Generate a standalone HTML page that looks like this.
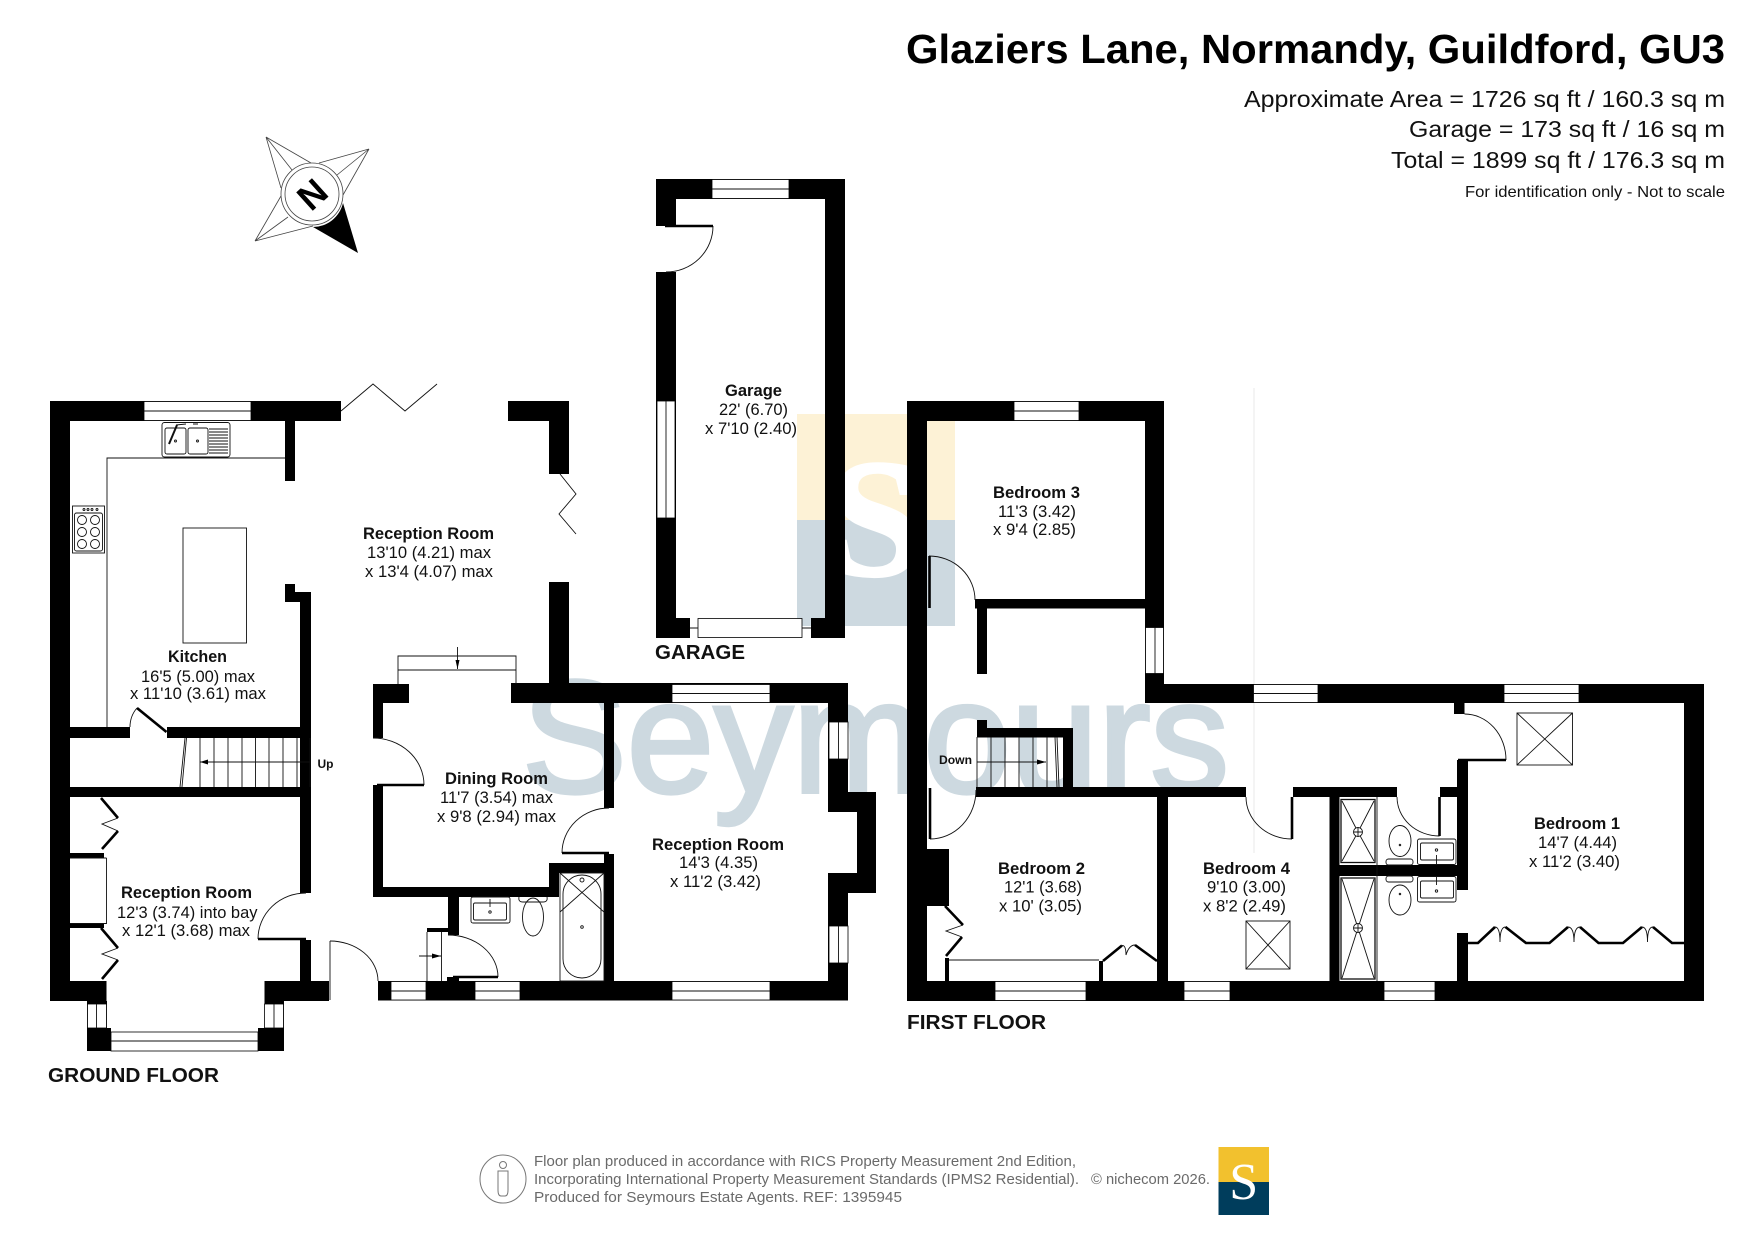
<!DOCTYPE html>
<html><head><meta charset="utf-8"><title>Glaziers Lane Floor Plan</title>
<style>
html,body{margin:0;padding:0;background:#fff}
svg{display:block}
text{font-family:"Liberation Sans",sans-serif;fill:#111;font-size:16.5px}
.b{font-weight:bold}
.t{stroke:#111;stroke-width:.9;fill:none}
.l{stroke:#000;stroke-width:2.6;fill:none}
.w{fill:#fff;stroke:#000;stroke-width:.8}
.f text{fill:#6a6a6a;font-size:14.5px}
</style></head><body>
<svg xmlns="http://www.w3.org/2000/svg" width="1755" height="1241" viewBox="0 0 1755 1241">
<rect width="1755" height="1241" fill="#fff"/>
<!-- watermark -->
<rect x="797" y="414" width="158" height="106" fill="#fdf2d6"/>
<rect x="797" y="520" width="158" height="106" fill="#cdd9e0"/>
<text x="876" y="575" text-anchor="middle" style="font-family:'Liberation Serif',serif;font-size:168px;fill:#fff;font-weight:bold;stroke:#fff;stroke-width:3px">S</text>
<text x="522" y="792" textLength="707" lengthAdjust="spacingAndGlyphs" style="font-size:160px;fill:#cdd9e0;stroke:#cdd9e0;stroke-width:4px">Seymours</text>
<line x1="1254" y1="388" x2="1254" y2="853" stroke="#e8e8e8" stroke-width="1"/>

<!-- ground floor walls -->
<g fill="#000">
<rect x="50" y="401" width="20" height="600"/>
<rect x="50" y="401" width="291" height="20"/>
<rect x="285" y="421" width="10" height="60"/>
<rect x="508" y="401" width="61" height="20"/>
<rect x="549" y="401" width="20" height="73"/>
<rect x="549" y="582" width="20" height="102"/>
<rect x="285" y="584" width="10" height="18"/>
<rect x="285" y="592" width="26" height="10"/>
<rect x="300" y="592" width="11" height="301"/>
<rect x="300" y="940" width="11" height="41"/>
<rect x="70" y="727" width="60" height="11"/>
<rect x="167" y="727" width="144" height="11"/>
<rect x="70" y="787" width="241" height="10"/>
<rect x="50" y="981" width="56.500" height="20"/>
<rect x="264.500" y="981" width="64.500" height="20"/>
<rect x="87" y="1001" width="20" height="27"/>
<rect x="264.500" y="1001" width="19.500" height="27"/>
<rect x="87" y="1028" width="24" height="23"/>
<rect x="258" y="1028" width="26" height="23"/>
<rect x="70" y="853" width="34" height="5"/>
<rect x="70" y="924" width="34" height="4"/>
<rect x="378" y="981" width="470" height="19.500"/>
<rect x="373" y="684" width="36" height="19"/>
<rect x="511" y="683" width="337" height="20"/>
<rect x="373" y="684" width="10" height="54"/>
<rect x="373" y="785" width="10" height="112"/>
<rect x="373" y="887" width="186" height="10"/>
<rect x="549" y="863" width="10" height="34"/>
<rect x="549" y="863" width="65" height="10"/>
<rect x="604" y="703" width="10" height="105"/>
<rect x="604" y="854" width="10" height="127"/>
<rect x="828" y="683" width="20" height="317"/>
<rect x="828" y="792" width="48" height="101"/>
<rect x="448" y="897" width="11" height="38"/>
<rect x="427" y="928" width="21" height="4"/>
<rect x="447" y="977" width="12" height="5"/>
</g>
<rect x="828" y="812" width="29" height="61" fill="#fff"/>
<rect x="70" y="858" width="36" height="66" fill="#fff"/>
<line x1="70" y1="858" x2="106.500" y2="858" class="t"/><line x1="70" y1="923.500" x2="106.500" y2="923.500" class="t"/><line x1="106.500" y1="858" x2="106.500" y2="924" class="t"/>

<!-- ground windows -->
<g class="w">
<rect x="144" y="401.500" width="107" height="19"/>
<rect x="87.500" y="1004" width="19" height="24"/>
<rect x="264.500" y="1004" width="19" height="24"/>
<rect x="111" y="1032" width="147" height="19"/>
<rect x="391" y="981.500" width="35" height="18.500"/>
<rect x="475" y="981.500" width="45" height="18.500"/>
<rect x="672" y="981.500" width="98" height="18.500"/>
<rect x="672" y="684.500" width="98" height="18"/>
<rect x="829" y="722" width="19" height="37"/>
<rect x="829" y="926" width="19" height="37"/>
</g>
<g class="t">
<path d="M144 411H251M96.500 1004V1028M274 1004V1028M111 1041H258M391 991H426M475 991H520M672 991H770M672 693.500H770M838.500 722V759M838.500 926V963"/>
<path d="M341 411L373 384L405 411L437 384"/>
<path d="M560 474L576 494L559 514L576 534"/>
<!-- kitchen -->
<path d="M107 727V458H285"/>
<rect x="183" y="528" width="63.500" height="115"/>
<rect x="162" y="422.500" width="68" height="34.500" rx="2.500"/>
<rect x="165" y="428" width="21" height="26" rx="2"/>
<rect x="188" y="428" width="20" height="26" rx="2"/>
<path d="M209 429H228M209 432H228M209 435H228M209 438H228M209 441H228M209 444H228M209 447H228M209 450H228M209 453H228"/>
<path d="M176 425L186 424M193 424L198 424"/>
<path d="M177 425L169 444" stroke-width="2"/>
<circle cx="175.500" cy="441" r="1"/><circle cx="197.500" cy="441" r="1"/>
<rect x="72.500" y="506" width="32" height="47"/>
<rect x="74.500" y="513" width="28" height="38" rx="2"/>
<circle cx="82" cy="520" r="4.500"/><circle cx="95" cy="520" r="4.500"/>
<circle cx="82" cy="532" r="4.500"/><circle cx="95" cy="532" r="4.500"/>
<circle cx="82" cy="544" r="4.500"/><circle cx="95" cy="544" r="4.500"/>
<circle cx="84" cy="509.500" r="1"/><circle cx="88" cy="509.500" r="1"/><circle cx="92" cy="509.500" r="1"/><circle cx="97" cy="509.500" r="1"/>
<path d="M130 727Q130 716 137 708"/>
<!-- stairs -->
<path d="M200 738V787M214 738V787M228 738V787M242 738V787M255.500 738V787M269 738V787M283 738V787M297 738V787M310 738V787M200 762H310"/>
<path d="M185 738L180 787M186.500 738L182 787"/>
<!-- doors -->
<path d="M258 939A48 46 0 0 1 306 893"/>
<path d="M330 941V1000"/>
<path d="M330 941A48 40 0 0 1 378 981"/>
<path d="M373 738A51 47 0 0 1 424 785"/>
<path d="M562 853A47 45 0 0 1 609 808"/>
<path d="M448 935A50 42 0 0 1 498 977"/>
<!-- bay window bracket -->
<path d="M398 684V656H516V684M398 670H516M457.500 647V669"/>
<!-- cupboard -->
<path d="M427 932V981M441.500 932V981M419 956H441"/>
<!-- bifold mid segments -->
<path d="M118 818L102 824L118 831M118 948L102 954L118 960"/>
<!-- bathroom -->
<rect x="471" y="897" width="39" height="26" rx="2"/>
<rect x="473.500" y="903" width="33" height="17" rx="1.500"/>
<circle cx="490" cy="912" r="1.200"/><path d="M490 899V907"/>
<path d="M519 897Q518 902 523 902H543Q548 902 547 897"/>
<ellipse cx="533" cy="917" rx="10.500" ry="19"/>
<rect x="560" y="873" width="44" height="108"/>
<rect x="563" y="875" width="38" height="103" rx="19"/>
<path d="M560 912L604 873M560 873L604 912"/>
<circle cx="582" cy="927" r="1.300"/><circle cx="582" cy="880" r="2"/>
</g>
<g class="l">
<path d="M137 708L166.500 732"/>
<path d="M101 798L118 818M118 831L102 849M101 928L118 948M118 960L102 979"/>
<path d="M258 939H306"/>
<path d="M377 785H424"/>
<path d="M562 853H609"/>
<path d="M453 977H498"/>
</g>
<path d="M200 762l8 -2.500v5z M457.500 669l-2 -9h4z M441 956l-9 -2.500v5z" fill="#000"/>

<!-- garage -->
<g fill="#000">
<rect x="656" y="179" width="189" height="20"/>
<rect x="656" y="179" width="20" height="47"/>
<rect x="656" y="272" width="20" height="366"/>
<rect x="825" y="179" width="20" height="459"/>
<rect x="656" y="618" width="34" height="20"/>
<rect x="811" y="618" width="34" height="20"/>
</g>
<g class="w">
<rect x="712" y="179.500" width="77" height="19"/>
<rect x="657" y="401" width="18" height="117"/>
<rect x="698" y="618.500" width="104" height="19"/>
</g>
<g class="t">
<path d="M712 189H789M666 401V518M690 628H698M802 628H811"/>
<path d="M713 226A47 46 0 0 1 666 272"/>
</g>
<path d="M665 226H713" class="l"/>

<!-- first floor walls -->
<g fill="#000">
<rect x="907" y="401" width="20" height="600"/>
<rect x="907" y="401" width="257" height="20"/>
<rect x="1145" y="401" width="19" height="302"/>
<rect x="975" y="599" width="170" height="9.500"/>
<rect x="977" y="608" width="10" height="66"/>
<rect x="1145" y="684" width="559" height="19"/>
<rect x="1684" y="684" width="20" height="317"/>
<rect x="907" y="981" width="797" height="20"/>
<rect x="977" y="720" width="10" height="17"/>
<rect x="977" y="728" width="96" height="9.500"/>
<rect x="1063" y="728" width="10" height="59"/>
<rect x="976" y="787" width="270" height="10"/>
<rect x="1293" y="787" width="104" height="10"/>
<rect x="1440" y="787" width="28" height="10"/>
<rect x="1157" y="797" width="11" height="184"/>
<rect x="1329.500" y="797" width="10" height="184"/>
<rect x="1339" y="865" width="129" height="11"/>
<rect x="1457" y="760" width="11" height="130"/>
<rect x="1457" y="933" width="11" height="48"/>
<rect x="1454" y="703" width="10.500" height="11"/>
<rect x="927" y="849" width="22" height="57"/>
<rect x="945" y="958" width="4" height="23"/>
<rect x="1099" y="961" width="4" height="20"/>
</g>
<g class="w">
<rect x="1014" y="401.500" width="65" height="19"/>
<rect x="1145.500" y="627.500" width="18" height="46"/>
<rect x="1253.500" y="684.500" width="64.500" height="18"/>
<rect x="1504" y="684.500" width="75" height="18"/>
<rect x="995" y="981.500" width="91" height="19"/>
<rect x="1184" y="981.500" width="46" height="19"/>
<rect x="1384" y="981.500" width="51" height="19"/>
</g>
<g class="t">
<path d="M1014 411H1079M1155 627.500V673.500M1253.500 693.500H1318M1504 693.500H1579M995 991H1086M1184 991H1230M1384 991H1435"/>
<path d="M929 556A46 44 0 0 1 975 600"/>
<path d="M930 839A46 49 0 0 0 976 790"/>
<path d="M1246 797A46 42 0 0 0 1292 839"/>
<path d="M1397 797A42.500 39 0 0 0 1439.500 836"/>
<path d="M1464.500 714A41.500 46 0 0 1 1506 760"/>
<!-- stairs -->
<path d="M977 737V787M991 737V787M1005 737V787M1019 737V787M1033 737V787M1047 737V787M977 762H1046M1055 737L1057 787M1057 737L1059 787"/>
<!-- bed 2 cupboard -->
<path d="M949 960H1099"/>
<path d="M963 925L946 931L962 937"/>
<path d="M1122 945.500Q1126 945 1126 955Q1129 945 1135 945"/>
<!-- skylights -->
<rect x="1246" y="921" width="44" height="48"/>
<path d="M1246 921L1290 969M1290 921L1246 969"/>
<rect x="1517" y="713" width="55.500" height="52"/>
<path d="M1517 713L1572.500 765M1572.500 713L1517 765"/>
<!-- ensuite -->
<rect x="1341" y="799.500" width="34" height="63" stroke-width="1.300"/>
<rect x="1341" y="878" width="34" height="101" stroke-width="1.300"/>
<path d="M1342 801L1358 832L1374 801M1342 861L1358 832L1374 861M1342 879L1358 928L1374 879M1342 978L1358 928L1374 978"/>
<circle cx="1358" cy="832" r="4.500" fill="#fff"/><circle cx="1358" cy="928" r="4.500" fill="#fff"/>
<path d="M1354 832H1362M1358 828V836M1354 928H1362M1358 924V932"/>
<path d="M1377 797V981"/>
<ellipse cx="1400" cy="841" rx="11" ry="15.500"/>
<ellipse cx="1400" cy="900" rx="11" ry="15"/>
<rect x="1386" y="859" width="27" height="6" rx="2.500"/>
<rect x="1386" y="876" width="27" height="6" rx="2.500"/>
<rect x="1417.500" y="839" width="38.500" height="25.500" rx="2"/>
<rect x="1420.500" y="843" width="33" height="17" rx="1.500"/>
<rect x="1417.500" y="876.500" width="38.500" height="25.500" rx="2"/>
<rect x="1420.500" y="881" width="33" height="17" rx="1.500"/>
<circle cx="1436.500" cy="850" r="1.200"/><circle cx="1436.500" cy="891" r="1.200"/>
<path d="M1436.500 855V864M1436.500 877V885"/>
<circle cx="1400" cy="845" r=".8"/><circle cx="1400" cy="894" r=".8"/>
<!-- wardrobe wiggles -->
<path d="M1495 927Q1500 927 1500 942Q1500 927 1505.500 927M1568 927Q1574 927 1574 942Q1574 927 1580 927M1642 927Q1647.500 927 1647.500 942Q1647.500 927 1653 927"/>
</g>
<g class="l">
<path d="M929.500 556V608"/>
<path d="M930 788V839"/>
<path d="M1292 797V839"/>
<path d="M1439.500 797V836"/>
<path d="M1458 760H1506"/>
<path d="M945 906L963 925M962 937L946 956"/>
<path d="M1103 961L1122 945.500M1135 945L1157 961"/>
<path d="M1468 943H1478L1495 927M1505.500 927L1526 943H1549.500L1568 927M1580 927L1598.500 943H1623L1642 927M1653 927L1672 943H1684"/>
</g>
<path d="M1046 762l-9 -2.500v5z" fill="#000"/>

<!-- compass -->
<g stroke="#444" stroke-width=".8" fill="none">
<path d="M266 137L311 163M266 137L281 188M266 137L292 170"/>
<path d="M369 149L319 163M369 149L343 195M369 149L337 175"/>
<path d="M255 241L281 196M255 241L313 226M255 241L288 217"/>
<circle cx="312" cy="194" r="31"/>
<circle cx="312" cy="194" r="27"/>
</g>
<path d="M343 203L358 253L313 227A31 31 0 0 0 343 203Z" fill="#000"/>
<text x="312" y="194" transform="rotate(-42 312 194)" class="b" text-anchor="middle" dy="13" style="font-size:36px;fill:#000">N</text>

<!-- labels -->
<g>
<text x="906" y="63" textLength="819" lengthAdjust="spacingAndGlyphs" class="b" style="font-size:41px;fill:#000">Glaziers Lane, Normandy, Guildford, GU3</text>
<text x="1244" y="107" textLength="481" lengthAdjust="spacingAndGlyphs" style="font-size:23.500px">Approximate Area = 1726 sq ft / 160.3 sq m</text>
<text x="1409" y="137" textLength="316" lengthAdjust="spacingAndGlyphs" style="font-size:23.500px">Garage = 173 sq ft / 16 sq m</text>
<text x="1391" y="168" textLength="334" lengthAdjust="spacingAndGlyphs" style="font-size:23.500px">Total = 1899 sq ft / 176.3 sq m</text>
<text x="1465" y="197" textLength="260" lengthAdjust="spacingAndGlyphs" style="font-size:16px">For identification only - Not to scale</text>

<text x="363" y="539" textLength="131" lengthAdjust="spacingAndGlyphs" class="b">Reception Room</text>
<text x="367" y="558" textLength="124" lengthAdjust="spacingAndGlyphs">13'10 (4.21) max</text>
<text x="365" y="577" textLength="128" lengthAdjust="spacingAndGlyphs">x 13'4 (4.07) max</text>
<text x="168" y="662" textLength="59" lengthAdjust="spacingAndGlyphs" class="b">Kitchen</text>
<text x="141" y="682" textLength="114" lengthAdjust="spacingAndGlyphs">16'5 (5.00) max</text>
<text x="130" y="699" textLength="136" lengthAdjust="spacingAndGlyphs">x 11'10 (3.61) max</text>
<text x="445" y="784" textLength="103" lengthAdjust="spacingAndGlyphs" class="b">Dining Room</text>
<text x="440" y="803" textLength="113" lengthAdjust="spacingAndGlyphs">11'7 (3.54) max</text>
<text x="437" y="822" textLength="119" lengthAdjust="spacingAndGlyphs">x 9'8 (2.94) max</text>
<text x="652" y="850" textLength="132" lengthAdjust="spacingAndGlyphs" class="b">Reception Room</text>
<text x="679" y="868" textLength="79" lengthAdjust="spacingAndGlyphs">14'3 (4.35)</text>
<text x="670" y="887" textLength="91" lengthAdjust="spacingAndGlyphs">x 11'2 (3.42)</text>
<text x="121" y="898" textLength="131" lengthAdjust="spacingAndGlyphs" class="b">Reception Room</text>
<text x="117" y="918" textLength="140.500" lengthAdjust="spacingAndGlyphs">12'3 (3.74) into bay</text>
<text x="122" y="936" textLength="128" lengthAdjust="spacingAndGlyphs">x 12'1 (3.68) max</text>
<text x="48" y="1082" textLength="171" lengthAdjust="spacingAndGlyphs" class="b" style="font-size:20.500px">GROUND FLOOR</text>
<text x="725" y="396" textLength="57" lengthAdjust="spacingAndGlyphs" class="b">Garage</text>
<text x="719" y="415" textLength="69" lengthAdjust="spacingAndGlyphs">22' (6.70)</text>
<text x="705" y="434" textLength="92" lengthAdjust="spacingAndGlyphs">x 7'10 (2.40)</text>
<text x="655" y="659" textLength="90" lengthAdjust="spacingAndGlyphs" class="b" style="font-size:20.500px">GARAGE</text>
<text x="993" y="498" textLength="87" lengthAdjust="spacingAndGlyphs" class="b">Bedroom 3</text>
<text x="998" y="517" textLength="78" lengthAdjust="spacingAndGlyphs">11'3 (3.42)</text>
<text x="993" y="535" textLength="83" lengthAdjust="spacingAndGlyphs">x 9'4 (2.85)</text>
<text x="998" y="874" textLength="87" lengthAdjust="spacingAndGlyphs" class="b">Bedroom 2</text>
<text x="1004" y="892.500" textLength="78" lengthAdjust="spacingAndGlyphs">12'1 (3.68)</text>
<text x="999" y="911.500" textLength="83" lengthAdjust="spacingAndGlyphs">x 10' (3.05)</text>
<text x="1203" y="874" textLength="87" lengthAdjust="spacingAndGlyphs" class="b">Bedroom 4</text>
<text x="1207" y="892.500" textLength="79" lengthAdjust="spacingAndGlyphs">9'10 (3.00)</text>
<text x="1203" y="911.500" textLength="83" lengthAdjust="spacingAndGlyphs">x 8'2 (2.49)</text>
<text x="1534" y="829" textLength="86" lengthAdjust="spacingAndGlyphs" class="b">Bedroom 1</text>
<text x="1538" y="848" textLength="79" lengthAdjust="spacingAndGlyphs">14'7 (4.44)</text>
<text x="1529" y="867" textLength="91" lengthAdjust="spacingAndGlyphs">x 11'2 (3.40)</text>
<text x="907" y="1029" textLength="139" lengthAdjust="spacingAndGlyphs" class="b" style="font-size:20.500px">FIRST FLOOR</text>
<text x="317.500" y="768" textLength="16" lengthAdjust="spacingAndGlyphs" class="b" style="font-size:12px">Up</text>
<text x="939" y="764" textLength="33" lengthAdjust="spacingAndGlyphs" class="b" style="font-size:12px">Down</text>
</g>

<!-- footer -->
<g class="f">
<text x="534" y="1166" textLength="542" lengthAdjust="spacingAndGlyphs">Floor plan produced in accordance with RICS Property Measurement 2nd Edition,</text>
<text x="534" y="1184" textLength="545" lengthAdjust="spacingAndGlyphs">Incorporating International Property Measurement Standards (IPMS2 Residential).</text>
<text x="1091" y="1184" textLength="119" lengthAdjust="spacingAndGlyphs">© nichecom 2026.</text>
<text x="534" y="1202" textLength="368" lengthAdjust="spacingAndGlyphs">Produced for Seymours Estate Agents.   REF: 1395945</text>
</g>
<g fill="none" stroke="#777" stroke-width="1">
<ellipse cx="503" cy="1179" rx="23" ry="24"/>
<circle cx="503" cy="1165" r="3.500"/>
<path d="M498 1171H508V1190Q508 1196 505 1196H501Q498 1196 498 1190Z"/>
</g>
<rect x="1218.500" y="1147" width="50.500" height="35" fill="#f2c12e"/>
<rect x="1218.500" y="1182" width="50.500" height="33" fill="#003d5c"/>
<text x="1243.750" y="1199" text-anchor="middle" style="font-family:'Liberation Serif',serif;font-size:52px;fill:#fff">S</text>
</svg>
</body></html>
